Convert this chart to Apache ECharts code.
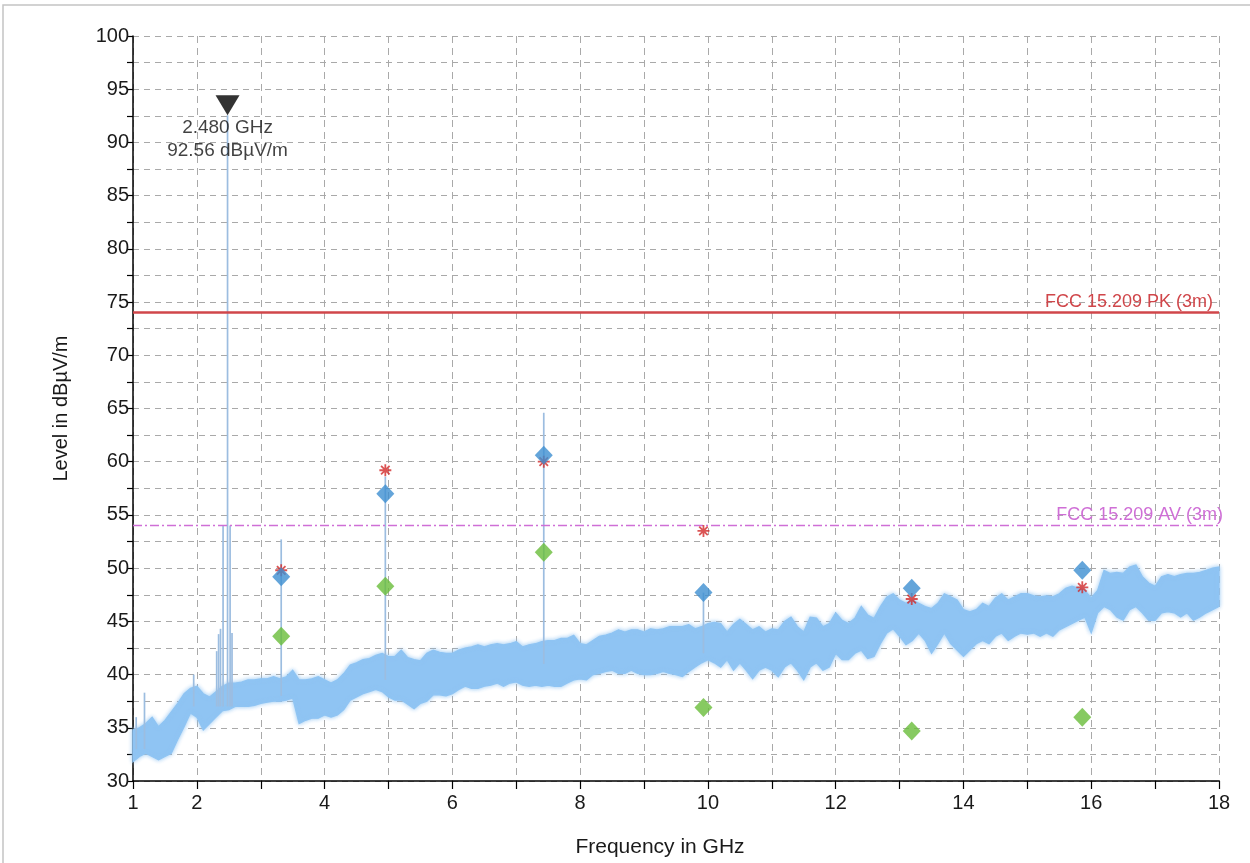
<!DOCTYPE html>
<html>
<head>
<meta charset="utf-8">
<script src="https://cdn.jsdelivr.net/npm/echarts@6/dist/echarts.min.js"></script>
<style>
  html, body { margin: 0; padding: 0; background: #ffffff; }
  #chart { width: 1250px; height: 863px; }
</style>
</head>
<body>
<div id="chart"></div>
<script>
// Sweep grid of the noise trace (GHz)
const SWEEP_START_GHZ = 1.0;
const SWEEP_STEP_GHZ = 0.1;

// Upper edge of the swept noise trace, dBµV/m, one value per 0.1 GHz from 1.0 to 18.0
const traceUpper = [
  34.8, 35.0, 35.4, 36.0, 35.1, 35.7, 36.5, 37.3, 38.2, 38.7,
  38.9, 38.2, 37.9, 38.4, 38.9, 39.2, 39.2, 39.3, 39.5, 39.5,
  39.6, 39.6, 39.8, 39.6, 39.8, 40.4, 39.5, 39.5, 39.6, 39.8,
  39.5, 39.2, 39.5, 40.1, 40.9, 41.1, 41.4, 41.5, 41.8, 42.0,
  41.7, 41.7, 42.3, 41.6, 41.4, 41.3, 42.0, 42.3, 42.1, 42.0,
  42.0, 42.3, 42.5, 42.6, 42.8, 42.6, 42.8, 42.9, 42.8, 42.9,
  43.1, 42.6, 42.8, 42.9, 43.1, 43.2, 43.2, 43.4, 43.4, 43.7,
  42.9, 42.8, 43.2, 43.6, 43.7, 43.9, 44.2, 44.0, 44.2, 44.2,
  44.0, 44.3, 44.2, 44.3, 44.5, 44.5, 44.5, 44.7, 44.3, 44.5,
  44.8, 44.9, 44.8, 44.0, 44.7, 45.2, 44.7, 44.2, 44.5, 44.0,
  44.3, 44.2, 45.0, 45.4, 44.5, 44.0, 45.4, 45.3, 44.5, 44.8,
  45.8, 45.1, 44.8, 45.3, 46.4, 45.6, 45.3, 46.4, 47.3, 47.6,
  47.0, 46.7, 47.0, 46.7, 46.4, 46.2, 46.7, 47.6, 47.3, 47.0,
  46.1, 45.9, 46.1, 46.7, 46.4, 47.2, 47.6, 47.0, 47.3, 47.6,
  47.6, 47.4, 47.3, 47.4, 47.3, 47.6, 48.1, 48.3, 48.1, 47.9,
  47.2, 47.9, 49.8, 49.5, 49.6, 49.5, 50.1, 50.3, 49.2, 48.6,
  48.3, 49.2, 49.4, 49.2, 49.4, 49.5, 49.5, 49.6, 49.8, 50.0,
  50.1
];

// Lower edge of the swept noise trace, dBµV/m, same grid
const traceLower = [
  31.8, 32.3, 32.6, 32.3, 32.0, 32.3, 32.6, 33.9, 35.1, 36.4,
  36.0, 34.8, 35.4, 36.0, 36.6, 36.7, 37.0, 37.0, 37.0, 37.1,
  37.3, 37.4, 37.5, 37.5, 37.6, 37.8, 35.4, 35.7, 35.9, 35.9,
  36.2, 36.0, 36.2, 36.7, 37.6, 37.9, 38.2, 38.4, 38.6, 38.4,
  37.9, 37.6, 37.6, 37.2, 36.8, 37.3, 37.5, 38.1, 38.1, 38.0,
  38.2, 38.6, 38.9, 38.7, 38.7, 38.9, 39.0, 39.2, 38.9, 39.2,
  39.3, 39.0, 38.9, 39.0, 38.9, 39.0, 38.9, 38.9, 39.2, 39.5,
  39.6, 39.5, 40.0, 40.1, 40.3, 40.4, 40.1, 40.1, 40.4, 40.1,
  40.0, 40.0, 40.1, 40.3, 40.1, 40.0, 39.8, 40.3, 40.7, 41.1,
  41.4, 41.1, 40.7, 41.4, 40.4, 41.1, 40.4, 39.6, 40.4, 40.7,
  40.4, 39.8, 40.7, 41.1, 40.4, 39.5, 40.7, 41.1, 40.4, 40.7,
  42.0, 41.4, 41.4, 42.0, 42.3, 41.5, 41.7, 42.9, 43.9, 44.3,
  43.6, 42.8, 43.2, 43.9, 43.2, 42.0, 42.9, 43.9, 42.9, 42.3,
  41.7, 42.3, 42.9, 43.2, 42.9, 43.6, 43.9, 43.2, 43.6, 43.9,
  43.8, 43.9, 43.6, 43.9, 43.6, 44.2, 44.5, 44.8, 45.1, 45.4,
  43.9, 45.8, 46.4, 46.1, 45.4, 45.1, 46.1, 46.4, 45.8, 45.1,
  45.1, 45.8, 45.9, 45.8, 45.4, 45.8, 45.1, 45.4, 45.8, 46.1,
  46.4
];

// Carrier marker
const CARRIER_GHZ = 2.48;
const CARRIER_LEVEL = 92.56;

// Discrete emissions standing out of the noise: frequency, foot and tip level
const spikeFreq = [1.05, 1.18, 1.95, 2.31, 2.34, 2.37, 2.41, CARRIER_GHZ, 2.52, 2.55, 3.32, 4.95, 7.43, 9.93];
const spikeFoot = [33.0, 33.0, 37.0, 37.0, 37.0, 37.0, 37.0, 37.0, 37.0, 37.0, 38.0, 39.5, 41.0, 42.0];
const spikeTip  = [36.0, 38.3, 40.0, 42.2, 43.8, 44.3, 54.0, CARRIER_LEVEL, 54.0, 43.9, 52.7, 58.6, 64.6, 47.7];

// Final measurement points
const finalFreq    = [3.32, 4.95, 7.43, 9.93, 13.19, 15.86];
const finalPeak    = [49.2, 57.0, 60.6, 47.7, 48.1, 49.8];
const finalAverage = [43.6, 48.3, 51.5, 36.9, 34.7, 36.0];
const prescanPeak  = [49.8, 59.2, 60.0, 53.5, 47.1, 48.2];

// Limit lines
const LIMIT_PK = 74;
const LIMIT_AV = 54;
const LIMIT_PK_NAME = 'FCC 15.209 PK (3m)';
const LIMIT_AV_NAME = 'FCC 15.209 AV (3m)';

// Axis labelling
const xLabelValues = [1, 2, 4, 6, 8, 10, 12, 14, 16, 18];
const yLabelStep = 5;

const FONT = '"Liberation Sans", Arial, sans-serif';
const TRACE_BLUE = '#8fc4f3';
const SPIKE_BLUE = '#9cbde0';
const PEAK_BLUE = '#3d8fd1';
const AVG_GREEN = '#69bd3a';
const STAR_RED = '#d22a2a';
const PK_RED = '#d0464a';
const AV_VIOLET = '#cf6fd6';

const sweepFreq = traceUpper.map((_, i) => +(SWEEP_START_GHZ + i * SWEEP_STEP_GHZ).toFixed(2));
const bandRows = sweepFreq.map((f, i) => [f, traceLower[i], traceUpper[i]]);
const spikeRows = spikeFreq.map((f, i) => [f, spikeFoot[i], spikeTip[i]]);
const pairs = (xs, ys) => xs.map((x, i) => [x, ys[i]]);

const asteriskPath = 'path://M10 0V20M0 10H20M2.9 2.9L17.1 17.1M17.1 2.9L2.9 17.1';

const chart = echarts.init(document.getElementById('chart'), null, { renderer: 'canvas' });

chart.setOption({
  animation: false,
  backgroundColor: '#ffffff',
  textStyle: { fontFamily: FONT },
  graphic: [{
    type: 'rect',
    shape: { x: 3, y: 5, width: 1270, height: 880 },
    style: { fill: 'none', stroke: '#c4c4c4', lineWidth: 1.5 },
    silent: true,
    z: -10
  }],
  grid: { left: 133, right: 31, top: 36, bottom: 82, containLabel: false },
  xAxis: {
    type: 'value',
    min: 1, max: 18, interval: 1,
    name: 'Frequency in GHz',
    nameLocation: 'middle',
    nameGap: 56,
    nameTextStyle: { fontSize: 21, color: '#1a1a1a', fontFamily: FONT, padding: [0, 32, 0, 0] },
    axisLine: { show: true, onZero: false, lineStyle: { color: '#000', width: 1.5 } },
    axisTick: { show: true, length: 8, lineStyle: { color: '#000', width: 1.2 } },
    axisLabel: {
      fontSize: 20, color: '#1a1a1a', margin: 12, fontFamily: FONT,
      formatter: v => (xLabelValues.includes(Math.round(v)) ? String(Math.round(v)) : '')
    },
    splitLine: { show: true, lineStyle: { color: '#a9a9a9', type: [7, 5], width: 1 } }
  },
  yAxis: {
    type: 'value',
    min: 30, max: 100, interval: 2.5,
    name: 'Level in dBµV/m',
    nameLocation: 'middle',
    nameGap: 62,
    nameTextStyle: { fontSize: 20, color: '#1a1a1a', fontFamily: FONT },
    axisLine: { show: true, onZero: false, lineStyle: { color: '#000', width: 1.5 } },
    axisTick: { show: true, length: 6, lineStyle: { color: '#000', width: 1.2 } },
    axisLabel: {
      fontSize: 20, color: '#1a1a1a', margin: 4, fontFamily: FONT,
      formatter: v => (Math.abs(v % yLabelStep) < 1e-6 ? String(v) : '')
    },
    splitLine: { show: true, lineStyle: { color: '#a9a9a9', type: [6, 5], width: 1 } }
  },
  series: [
    {
      // swept noise trace, drawn as the band between its lower and upper edges
      name: 'trace',
      type: 'custom',
      coordinateSystem: 'cartesian2d',
      silent: true,
      z: 2,
      data: bandRows,
      encode: { x: 0, y: [1, 2] },
      renderItem(params, api) {
        if (params.dataIndex !== 0) return null;
        const pts = [];
        for (let i = 0; i < bandRows.length; i++) pts.push(api.coord([bandRows[i][0], bandRows[i][2]]));
        for (let i = bandRows.length - 1; i >= 0; i--) pts.push(api.coord([bandRows[i][0], bandRows[i][1]]));
        return {
          type: 'polygon',
          shape: { points: pts },
          style: {
            fill: TRACE_BLUE, stroke: TRACE_BLUE, lineWidth: 1.2,
            shadowBlur: 4, shadowColor: 'rgba(143,196,243,0.9)'
          }
        };
      }
    },
    {
      name: 'spikes',
      type: 'custom',
      coordinateSystem: 'cartesian2d',
      silent: true,
      z: 3,
      data: spikeRows,
      encode: { x: 0, y: [1, 2] },
      renderItem(params, api) {
        const a = api.coord([api.value(0), api.value(1)]);
        const b = api.coord([api.value(0), api.value(2)]);
        return {
          type: 'line',
          shape: { x1: a[0], y1: a[1], x2: b[0], y2: b[1] },
          style: { stroke: SPIKE_BLUE, lineWidth: 1.7 }
        };
      }
    },
    {
      name: 'limits',
      type: 'line',
      data: [],
      z: 4,
      markLine: {
        silent: true,
        symbol: ['none', 'none'],
        animation: false,
        data: [
          {
            yAxis: LIMIT_PK,
            lineStyle: { color: PK_RED, width: 2.6, type: 'solid' },
            label: {
              show: true, position: 'insideEndTop', formatter: LIMIT_PK_NAME,
              color: PK_RED, fontSize: 18, fontFamily: FONT, distance: [6, 2]
            }
          },
          {
            yAxis: LIMIT_AV,
            lineStyle: { color: AV_VIOLET, width: 1.3, type: [9, 3, 2, 3] },
            label: {
              show: true, position: 'insideEndTop', formatter: LIMIT_AV_NAME,
              color: AV_VIOLET, fontSize: 18, fontFamily: FONT, distance: [-4, 2]
            }
          }
        ]
      }
    },
    {
      name: 'prescan peak',
      type: 'scatter',
      z: 5,
      symbol: asteriskPath,
      symbolSize: 12,
      itemStyle: { color: 'rgba(0,0,0,0)', borderColor: STAR_RED, borderWidth: 1.8 },
      data: pairs(finalFreq, prescanPeak)
    },
    {
      name: 'peak',
      type: 'scatter',
      z: 6,
      symbol: 'diamond',
      symbolSize: [18, 19],
      itemStyle: { color: PEAK_BLUE },
      data: pairs(finalFreq, finalPeak)
    },
    {
      name: 'average',
      type: 'scatter',
      z: 6,
      symbol: 'diamond',
      symbolSize: [18, 19],
      itemStyle: { color: AVG_GREEN },
      data: pairs(finalFreq, finalAverage)
    },
    {
      name: 'marker',
      type: 'scatter',
      z: 7,
      symbol: 'triangle',
      symbolRotate: 180,
      symbolSize: [24, 20],
      symbolOffset: [0, -10],
      itemStyle: { color: '#000' },
      label: {
        show: true,
        position: 'bottom',
        distance: 1,
        color: '#111',
        fontSize: 19,
        lineHeight: 23,
        fontFamily: FONT,
        align: 'center',
        formatter: p => p.value[0].toFixed(3) + ' GHz\n' + p.value[1].toFixed(2) + ' dBµV/m'
      },
      data: [[CARRIER_GHZ, CARRIER_LEVEL]]
    }
  ]
});
</script>
</body>
</html>
